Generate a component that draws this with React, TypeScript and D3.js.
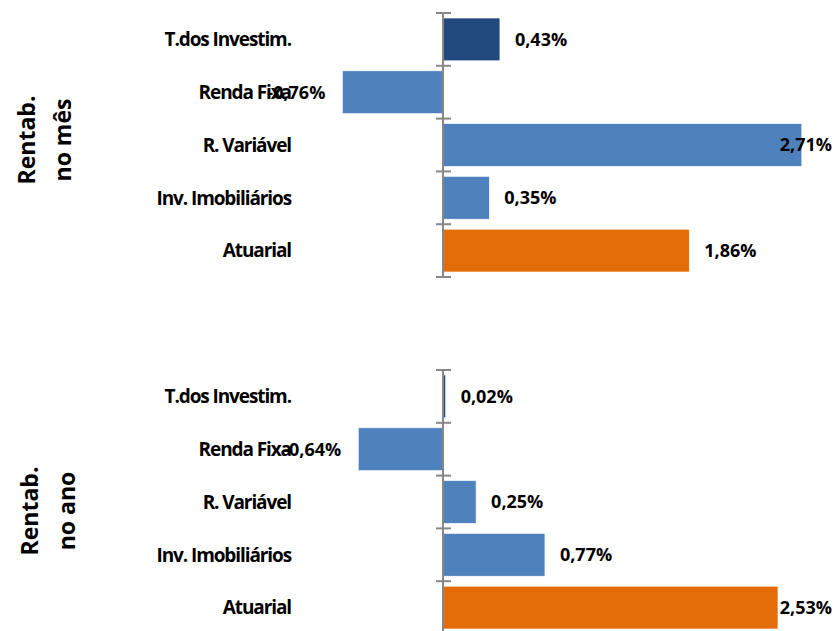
import React, { useEffect, useRef } from "react";
import * as d3 from "d3";

const categories = ["T.dos Investim.", "Renda Fixa", "R. Variável", "Inv. Imobiliários", "Atuarial"];
const monthValues = [0.43, -0.76, 2.71, 0.35, 1.86];
const yearValues = [0.02, -0.64, 0.25, 0.77, 2.53];
const barColors = ["#21497D", "#4F81BD", "#4F81BD", "#4F81BD", "#E36C09"];
const monthTitle = ["Rentab.", "no mês"];
const yearTitle = ["Rentab.", "no ano"];

const W = 836;
const H = 631;

function App() {
  const ref = useRef<SVGSVGElement>(null);

  useEffect(() => {
    const svg = d3.select(ref.current);
    svg.selectAll("*").remove();

    const x = d3.scaleLinear().domain([-1, 3]).range([310.6, 840.2]);
    const fmt = (v: number) => d3.format(".2f")(v).replace(".", ",").replace("−", "-") + "%";

    const panels = [
      { values: monthValues, title: monthTitle, top: 13, titleY: 140, titleX: [27, 63] },
      { values: yearValues, title: yearTitle, top: 370, titleY: 511, titleX: [30, 67] }
    ];

    panels.forEach(p => {
      const y = d3
        .scaleBand()
        .domain(categories)
        .range([p.top, p.top + 264])
        .paddingInner(0.19)
        .paddingOuter(0.095);

      const g = svg.append("g");

      // bars
      g.selectAll("rect")
        .data(p.values)
        .enter()
        .append("rect")
        .attr("x", d => x(Math.min(0, d)))
        .attr("width", d => Math.max(1.5, Math.abs(x(d) - x(0))))
        .attr("y", (d, i) => y(categories[i]))
        .attr("height", y.bandwidth())
        .attr("fill", (d, i) => barColors[i])
        .attr("stroke", "#ffffff")
        .attr("stroke-width", 0.6);

      // axis line + crossing ticks
      const x0 = x(0);
      g.append("line")
        .attr("x1", x0)
        .attr("x2", x0)
        .attr("y1", p.top)
        .attr("y2", p.top + 264)
        .attr("stroke", "#878787")
        .attr("stroke-width", 2);
      const tickYs = categories.map(c => y(c) - (y.step() * y.paddingInner()) / 2);
      tickYs.push(p.top + 264);
      g.selectAll("line.tick")
        .data(tickYs)
        .enter()
        .append("line")
        .attr("class", "tick")
        .attr("x1", x0 - 7)
        .attr("x2", x0 + 8)
        .attr("y1", d => d)
        .attr("y2", d => d)
        .attr("stroke", "#878787")
        .attr("stroke-width", 2);

      // category labels
      g.selectAll("text.cat")
        .data(categories)
        .enter()
        .append("text")
        .attr("class", "cat")
        .attr("x", 291)
        .attr("y", d => y(d) + y.bandwidth() / 2)
        .attr("dy", "0.36em")
        .attr("text-anchor", "end")
        .style("font-family", "'Open Sans', sans-serif")
        .style("font-weight", "bold")
        .style("font-size", "19px")
        .style("letter-spacing", "-1.1px")
        .style("fill", "#000")
        .text(d => d);

      // value labels
      const labels = g
        .selectAll("text.val")
        .data(p.values)
        .enter()
        .append("text")
        .attr("class", "val")
        .attr("y", (d, i) => y(categories[i]) + y.bandwidth() / 2)
        .attr("dy", "0.36em")
        .attr("text-anchor", d => (d < 0 ? "end" : "start"))
        .style("font-family", "'Open Sans', sans-serif")
        .style("font-weight", "bold")
        .style("font-size", "18px")
        .style("fill", "#000")
        .text(d => fmt(d));

      labels.each(function(d) {
        const el = this as SVGTextElement;
        if (d < 0) {
          el.setAttribute("x", String(x(d) - 17));
        } else {
          const w = el.getComputedTextLength();
          const px = Math.min(x(d) + 15, 832 - w);
          el.setAttribute("x", String(px));
        }
      });

      // panel title (rotated, two lines)
      p.title.forEach((t, i) => {
        g.append("text")
          .attr("transform", `translate(${p.titleX[i]}, ${p.titleY}) rotate(-90)`)
          .attr("text-anchor", "middle")
          .attr("dy", "0.36em")
          .style("font-family", "'Open Sans', sans-serif")
          .style("font-weight", "bold")
          .style("font-size", "23px")
          .style("fill", "#000")
          .text(t);
      });
    });
  });

  return (
    <div style={{ position: "absolute", left: 0, top: 0 }}>
      <svg ref={ref} width={W} height={H} style={{ display: "block", background: "#fff" }} />
    </div>
  );
}

export default App;
